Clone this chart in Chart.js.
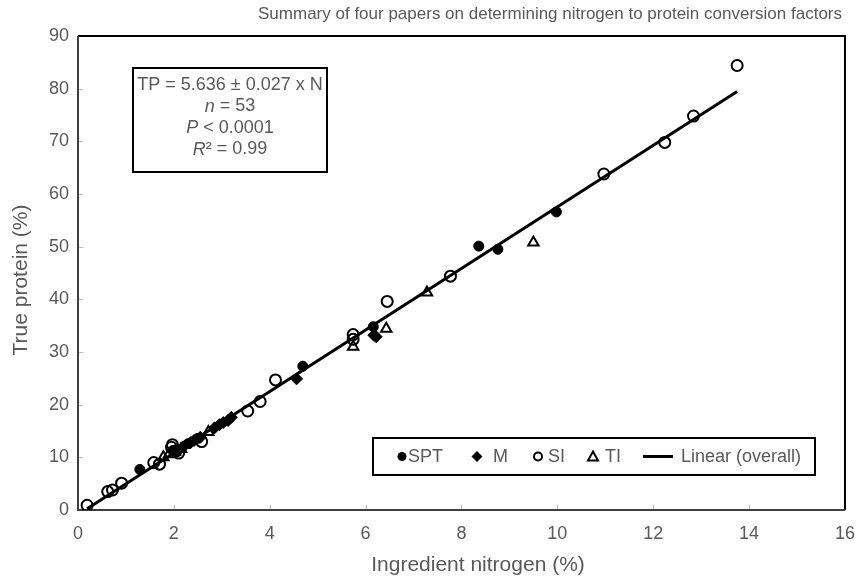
<!DOCTYPE html>
<html>
<head>
<meta charset="utf-8">
<script src="https://cdn.jsdelivr.net/npm/chart.js@4.4.0/dist/chart.umd.min.js"></script>
<style>
  html, body { margin: 0; padding: 0; background: #fff; }
</style>
</head>
<body>
<canvas id="myChart" width="868" height="581"></canvas>
<script>
// chart texts
const chartTitle = 'Summary of four papers on determining nitrogen to protein conversion factors';
const xTitle = 'Ingredient nitrogen (%)';
const yTitle = 'True protein (%)';
const trendLabel = 'Linear (overall)';

// axis ticks
const xTicks = [0, 2, 4, 6, 8, 10, 12, 14, 16];
const yTicks = [0, 10, 20, 30, 40, 50, 60, 70, 80, 90];

// SPT (filled circles)
const sptN  = [1.29, 1.98, 2.30, 2.50, 4.69, 6.16, 8.36, 8.76, 9.98];
const sptTP = [7.7, 11.3, 12.6, 13.6, 27.3, 34.8, 50.1, 49.5, 56.6];

// M (filled diamonds)
const mN  = [2.00, 2.20, 2.35, 2.42, 2.55, 2.85, 2.95, 3.03, 3.13, 3.20, 4.56, 6.17, 6.22];
const mTP = [11.2, 12.0, 12.8, 13.2, 13.8, 15.6, 16.2, 16.6, 17.0, 17.6, 24.9, 33.2, 32.9];

// SI (open circles)
const siN  = [0.19, 0.62, 0.72, 0.91, 1.58, 1.70, 1.95, 1.97, 2.05, 2.10, 2.58, 3.54, 3.80, 4.12, 5.74, 5.74, 6.45, 7.77, 10.97, 12.24, 12.84, 13.75];
const siTP = [0.9, 3.5, 3.8, 5.1, 9.0, 8.7, 11.9, 12.4, 11.2, 10.8, 13.0, 18.8, 20.6, 24.7, 33.3, 32.4, 39.6, 44.4, 63.8, 69.8, 74.8, 84.4];

// TI (open triangles)
const tiN  = [1.78, 1.90, 2.02, 2.15, 2.72, 5.74, 6.43, 7.28, 9.50];
const tiTP = [10.0, 10.6, 11.0, 11.6, 14.8, 31.0, 34.4, 41.3, 50.8];

// text in the fit box, runs marked italic where needed
const fitText = [
    [['TP = 5.636 ± 0.027 x N', false]],
    [['n', true], [' = 53', false]],
    [['P', true], [' < 0.0001', false]],
    [['R', true], ['² = 0.99', false]]
];

const FONT = "'Liberation Sans', Arial, sans-serif";
const GREY = '#595959';

function pts(xs, ys) {
    return xs.map((x, i) => ({ x: x, y: ys[i] }));
}

// overall linear trend (least squares over all points)
const allN = sptN.concat(mN, siN, tiN);
const allTP = sptTP.concat(mTP, siTP, tiTP);
const mx = allN.reduce((a, b) => a + b, 0) / allN.length;
const my = allTP.reduce((a, b) => a + b, 0) / allTP.length;
let sxy = 0, sxx = 0;
allN.forEach((x, i) => { sxy += (x - mx) * (allTP[i] - my); sxx += (x - mx) * (x - mx); });
const slope = sxy / sxx;
const icpt = my - slope * mx;
const nMin = Math.min(...allN), nMax = Math.max(...allN);
const trend = [{ x: nMin, y: icpt + slope * nMin }, { x: nMax, y: icpt + slope * nMax }];

// frame, inner tick marks, titles, fit box and legend
const decor = {
    id: 'decor',
    beforeDatasetsDraw(chart) {
        const ctx = chart.ctx, a = chart.chartArea;
        const xs = chart.scales.x, ys = chart.scales.y;
        ctx.save();
        ctx.strokeStyle = '#bfbfbf';
        ctx.lineWidth = 1;
        ctx.beginPath();
        xTicks.slice(1, -1).forEach(v => {
            const px = Math.round(xs.getPixelForValue(v)) + 0.5;
            ctx.moveTo(px, a.bottom); ctx.lineTo(px, a.bottom - 5);
        });
        yTicks.slice(1, -1).forEach(v => {
            const py = Math.round(ys.getPixelForValue(v)) + 0.5;
            ctx.moveTo(a.left, py); ctx.lineTo(a.left + 5, py);
        });
        ctx.stroke();
        ctx.lineWidth = 2;
        ctx.strokeStyle = '#000';
        ctx.beginPath();
        ctx.moveTo(a.left, a.top); ctx.lineTo(a.right, a.top); ctx.lineTo(a.right, a.bottom);
        ctx.stroke();
        ctx.strokeStyle = '#404040';
        ctx.beginPath();
        ctx.moveTo(a.left, a.top); ctx.lineTo(a.left, a.bottom); ctx.lineTo(a.right, a.bottom);
        ctx.stroke();
        ctx.restore();
    },
    afterDraw(chart) {
        const ctx = chart.ctx;
        ctx.save();
        // title
        ctx.fillStyle = GREY;
        ctx.font = '17px ' + FONT;
        ctx.textAlign = 'right';
        ctx.textBaseline = 'middle';
        ctx.fillText(chartTitle, 842, 14);

        // axis titles
        ctx.textAlign = 'center';
        ctx.font = '21px ' + FONT;
        ctx.fillText(xTitle, 478, 565);
        ctx.save();
        ctx.translate(21, 280);
        ctx.rotate(-Math.PI / 2);
        ctx.fillText(yTitle, 0, 0);
        ctx.restore();

        // fit box
        const bx = 133, by = 68, bw = 194, bh = 104;
        ctx.fillStyle = '#fff';
        ctx.fillRect(bx, by, bw, bh);
        ctx.strokeStyle = '#000';
        ctx.lineWidth = 2;
        ctx.strokeRect(bx, by, bw, bh);
        ctx.fillStyle = GREY;
        ctx.textAlign = 'left';
        const cx = bx + bw / 2;
        fitText.forEach((runs, i) => {
            const y = by + 17 + i * 21.5;
            let w = 0;
            runs.forEach(r => { ctx.font = (r[1] ? 'italic ' : '') + '18px ' + FONT; w += ctx.measureText(r[0]).width; });
            let x = cx - w / 2;
            runs.forEach(r => {
                ctx.font = (r[1] ? 'italic ' : '') + '18px ' + FONT;
                ctx.fillText(r[0], x, y);
                x += ctx.measureText(r[0]).width;
            });
        });

        // legend
        const lx = 373, ly = 438, lw = 442, lh = 37;
        ctx.fillStyle = '#fff';
        ctx.fillRect(lx, ly, lw, lh);
        ctx.strokeStyle = '#000';
        ctx.lineWidth = 2;
        ctx.strokeRect(lx, ly, lw, lh);
        const my2 = ly + lh / 2;
        ctx.fillStyle = '#000';
        // SPT marker
        ctx.beginPath(); ctx.arc(402, my2, 4.5, 0, Math.PI * 2); ctx.fill();
        // M marker
        ctx.beginPath();
        ctx.moveTo(477, my2 - 5.5); ctx.lineTo(482.5, my2); ctx.lineTo(477, my2 + 5.5); ctx.lineTo(471.5, my2);
        ctx.closePath(); ctx.fill();
        // SI marker
        ctx.beginPath(); ctx.arc(538, my2, 4, 0, Math.PI * 2); ctx.stroke();
        // TI marker
        ctx.beginPath();
        ctx.moveTo(593, my2 - 5); ctx.lineTo(598, my2 + 4); ctx.lineTo(588, my2 + 4);
        ctx.closePath(); ctx.stroke();
        // trend line
        ctx.lineWidth = 3;
        ctx.beginPath(); ctx.moveTo(643, my2); ctx.lineTo(673, my2); ctx.stroke();
        ctx.fillStyle = GREY;
        ctx.font = '18px ' + FONT;
        ctx.fillText('SPT', 408, my2 + 1);
        ctx.fillText('M', 493, my2 + 1);
        ctx.fillText('SI', 548, my2 + 1);
        ctx.fillText('TI', 605, my2 + 1);
        ctx.fillText(trendLabel, 681, my2 + 1);
        ctx.restore();
    }
};

const config = {
    type: 'scatter',
    data: {
        datasets: [
            { label: 'SPT', data: pts(sptN, sptTP), pointStyle: 'circle', pointRadius: 5,
              backgroundColor: '#000', borderColor: '#000', borderWidth: 1 },
            { label: 'M', data: pts(mN, mTP), pointStyle: 'rectRot', pointRadius: 6,
              backgroundColor: '#000', borderColor: '#000', borderWidth: 1 },
            { label: 'SI', data: pts(siN, siTP), pointStyle: 'circle', pointRadius: 5.5,
              backgroundColor: 'rgba(0,0,0,0)', borderColor: '#000', borderWidth: 2 },
            { label: 'TI', data: pts(tiN, tiTP), pointStyle: 'triangle', pointRadius: 6,
              backgroundColor: 'rgba(0,0,0,0)', borderColor: '#000', borderWidth: 2 },
            { label: trendLabel, type: 'line', data: trend, showLine: true, pointRadius: 0,
              borderColor: '#000', borderWidth: 3, fill: false }
        ]
    },
    options: {
        responsive: false,
        animation: false,
        devicePixelRatio: 1,
        layout: { padding: { top: 36, right: 13, left: 0, bottom: 0 } },
        plugins: {
            legend: { display: false },
            title: { display: false },
            tooltip: { enabled: false }
        },
        scales: {
            x: {
                type: 'linear', min: 0, max: 16,
                afterBuildTicks: s => { s.ticks = xTicks.map(v => ({ value: v })); },
                afterFit: s => { s.height = 71; },
                ticks: { color: GREY, font: { family: FONT, size: 18 }, padding: 13 },
                grid: { display: false, drawTicks: false },
                border: { display: false }
            },
            y: {
                type: 'linear', min: 0, max: 90,
                afterBuildTicks: s => { s.ticks = yTicks.map(v => ({ value: v })); },
                afterFit: s => { s.width = 78; },
                ticks: { color: GREY, font: { family: FONT, size: 18 }, padding: 9 },
                grid: { display: false, drawTicks: false },
                border: { display: false }
            }
        }
    },
    plugins: [decor]
};

const myChart = new Chart(document.getElementById('myChart'), config);
</script>
</body>
</html>
